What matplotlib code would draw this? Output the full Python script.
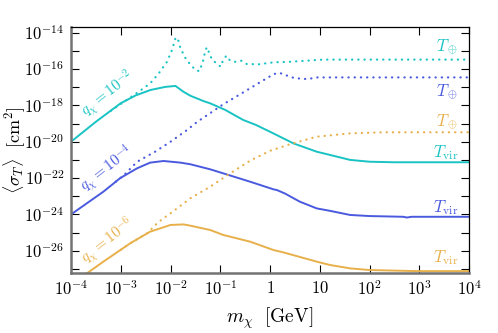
import numpy as np
import matplotlib
matplotlib.use("Agg")
import matplotlib.pyplot as plt
from matplotlib.ticker import FixedLocator, FuncFormatter

plt.rcParams['mathtext.fontset'] = 'cm'
plt.rcParams['font.family'] = 'serif'
plt.rcParams['font.serif'] = ['DejaVu Serif']

# colours of the three charge values
cyan = '#19c3c3'
blue = '#4a5ade'
orange = '#e8b04a'

# log10(m / GeV) and log10(<sigma_T> / cm^2)
# q = 1e-2
m_q2_vir = [-4, -3.5, -3.0, -2.7, -2.4, -2.1, -1.9, -1.74, -1.6, -1.34, -1.2, -0.9,
            -0.54, -0.28, 0.0, 0.47, 0.94, 1.21, 1.61, 2.0, 2.5, 4]
s_q2_vir = [-20, -18.9, -17.88, -17.45, -17.15, -16.98, -16.93, -17.25, -17.47, -17.76, -17.89, -18.25,
            -18.8, -19.08, -19.45, -20.09, -20.55, -20.73, -21.0, -21.1, -21.13, -21.13]
m_q2_earth = [-3.2, -2.88, -2.64, -2.41, -2.25, -2.07, -1.97, -1.9, -1.86, -1.8, -1.68, -1.5,
              -1.42, -1.35, -1.3, -1.27, -1.22, -1.17, -1.08, -0.99, -0.95, -0.88, -0.8, -0.7,
              -0.58, -0.47, -0.23, 0.07, 0.4, 1.07, 4]
s_q2_earth = [-18.3, -17.7, -17.25, -16.79, -16.29, -15.6, -14.95, -14.3, -14.27, -14.86, -15.5, -16.05,
              -16.12, -15.6, -15.0, -14.8, -15.13, -15.45, -15.69, -15.87, -15.56, -15.27, -15.54, -15.6,
              -15.54, -15.72, -15.74, -15.63, -15.6, -15.48, -15.48]

# q = 1e-4
m_q4_vir = [-4, -3.35, -3.01, -2.67, -2.41, -2.14, -1.8, -1.6, -1.2, -0.94, -0.4, 0.07, 0.14,
            0.3, 0.6, 0.94, 1.2, 1.61, 2.0, 2.68, 2.75, 2.85, 4]
s_q4_vir = [-24, -22.75, -22.0, -21.46, -21.15, -21.06, -21.15, -21.24, -21.52, -21.74, -22.2, -22.62, -22.66,
            -22.85, -23.3, -23.67, -23.8, -24.03, -24.09, -24.13, -24.17, -24.13, -24.13]
m_q4_earth = [-3.1, -2.94, -2.67, -2.31, -2.0, -1.67, -1.47, -0.94, -0.4, -0.27, -0.03, 0.08,
              0.2, 0.33, 0.47, 0.67, 0.8, 0.94, 4]
s_q4_earth = [-22.2, -21.85, -21.1, -20.55, -20.0, -19.36, -18.92, -17.94, -17.06, -16.84, -16.45, -16.27,
              -16.22, -16.35, -16.48, -16.55, -16.53, -16.46, -16.46]

# q = 1e-6
m_q6_vir = [-4, -3.35, -2.81, -2.41, -2.0, -1.74, -1.6, -1.2, -0.94, -0.4, 0.07, 0.27,
            0.94, 1.2, 1.61, 2.0, 2.94, 4]
s_q6_vir = [-27.86, -26.6, -25.59, -24.95, -24.58, -24.55, -24.62, -24.86, -25.13, -25.5, -25.96, -26.09,
            -26.6, -26.78, -26.97, -27.06, -27.12, -27.12]
m_q6_earth = [-3.0, -2.81, -2.47, -2.27, -2.14, -2.0, -1.6, -1.2, -0.8, -0.4, 0.0, 0.41,
              0.94, 1.21, 1.61, 2.28, 4]
s_q6_earth = [-25.95, -25.59, -25.04, -24.49, -24.21, -23.94, -23.11, -22.47, -21.74, -21.04, -20.5, -20.13,
              -19.72, -19.65, -19.54, -19.48, -19.48]

x_ticks = [-4, -3, -2, -1, 0, 1, 2, 3, 4]
x_labels = [r'$10^{-4}$', r'$10^{-3}$', r'$10^{-2}$', r'$10^{-1}$', r'$1$', r'$10$',
            r'$10^{2}$', r'$10^{3}$', r'$10^{4}$']


def p(v):
    return 10.0 ** np.array(v)


fig = plt.figure(figsize=(4.98, 3.33), dpi=100)
ax = fig.add_axes([0.1426, 0.1793, 0.7992, 0.7405])

dots = dict(linestyle=(0, (0.1, 2.7)), dash_capstyle='round', lw=1.6)
for mv, sv, me, se, c in [(m_q2_vir, s_q2_vir, m_q2_earth, s_q2_earth, cyan),
                          (m_q4_vir, s_q4_vir, m_q4_earth, s_q4_earth, blue),
                          (m_q6_vir, s_q6_vir, m_q6_earth, s_q6_earth, orange)]:
    ax.plot(p(me), p(se), color=c, **dots)
    ax.plot(p(mv), p(sv), color=c, lw=1.4)

ax.set_xscale('log')
ax.set_yscale('log')
ax.set_xlim(1e-4, 1e4)
ax.set_ylim(10 ** -27.24, 10 ** -13.67)

ax.xaxis.set_major_locator(FixedLocator(p(x_ticks)))
ax.xaxis.set_minor_locator(FixedLocator([]))
ax.set_xticklabels(x_labels)
ax.yaxis.set_major_locator(FixedLocator(p(range(-27, -13))))
ax.yaxis.set_minor_locator(FixedLocator([]))
ax.yaxis.set_major_formatter(FuncFormatter(
    lambda v, pos: r'$10^{%d}$' % round(np.log10(v)) if round(np.log10(v)) % 2 == 0 else ''))
ax.tick_params(which='both', direction='in', top=True, right=True, length=5.5, width=0.8,
               labelsize=12, pad=5)

for s in ['left', 'bottom']:
    ax.spines[s].set_color('0.45')
    ax.spines[s].set_linewidth(1.8)
for s in ['top', 'right']:
    ax.spines[s].set_linewidth(0.9)

ax.set_xlabel(r'$m_\chi\ \ [\mathrm{GeV}]$', fontsize=14, labelpad=5)
ax.set_ylabel(r'$\langle \sigma_T \rangle\ \ [\mathrm{cm}^2]$', fontsize=13)
ax.yaxis.set_label_coords(-0.108, 0.5)

# charge labels along the rising curves
for x, y, t, c in [(-3.27, -17.35, r'$q_\chi = 10^{-2}$', cyan),
                   (-3.27, -21.5, r'$q_\chi = 10^{-4}$', blue),
                   (-3.27, -25.45, r'$q_\chi = 10^{-6}$', orange)]:
    ax.text(10 ** x, 10 ** y, t, color=c, fontsize=11, rotation=38,
            rotation_mode='anchor', ha='center', va='center')

# temperature labels on the right
for y, t, c in [(-14.79, r'$T_\oplus$', cyan), (-17.26, r'$T_\oplus$', blue),
                (-18.91, r'$T_\oplus$', orange), (-20.57, r'$T_{\rm vir}$', cyan),
                (-23.6, r'$T_{\rm vir}$', blue), (-26.4, r'$T_{\rm vir}$', orange)]:
    ax.text(10 ** 3.78, 10 ** y, t, color=c, fontsize=12, ha='right', va='center')

fig.savefig('out.png', dpi=100)
